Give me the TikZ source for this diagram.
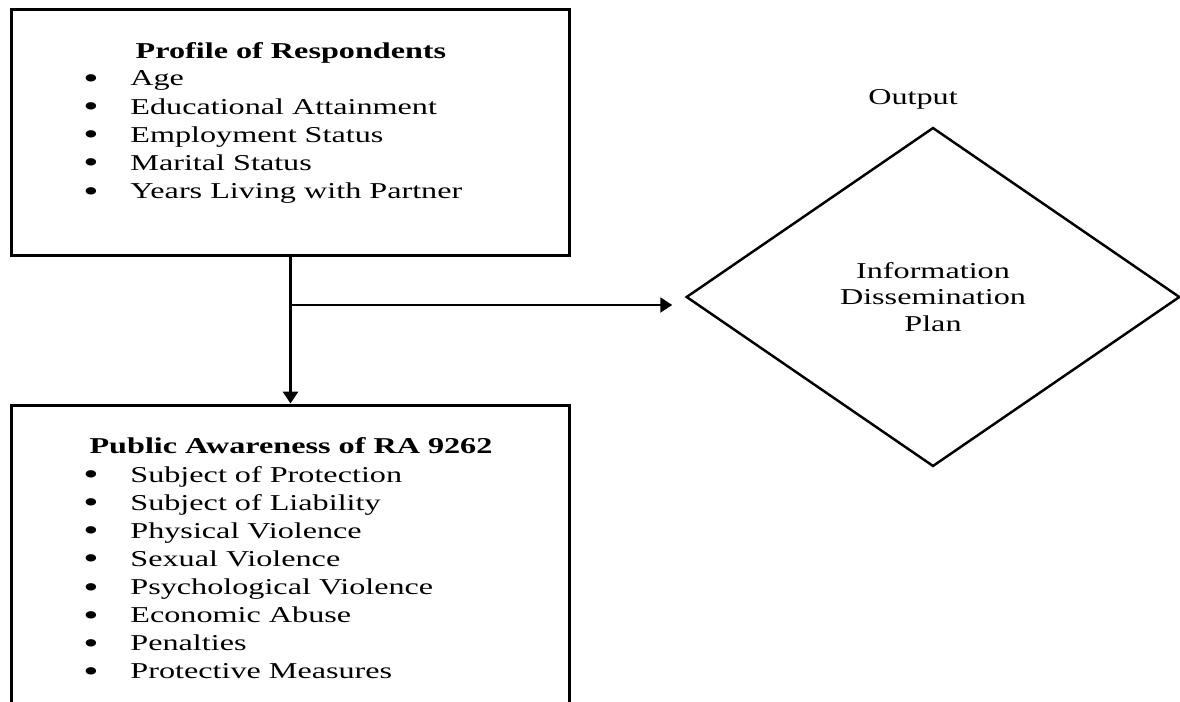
\documentclass[tikz,border=0pt]{standalone}
\usepackage{fontspec}
\setmainfont{Liberation Serif}
\usetikzlibrary{shapes.geometric, arrows.meta, positioning}

\newcommand{\bul}[1]{\makebox[18.8pt][l]{\raisebox{-1.5pt}{\fontsize{17.5}{16}\selectfont\textbullet}}#1}

\begin{document}
\begin{tikzpicture}[x=0.02cm, y=-0.02cm,
                box/.style={rectangle, draw, line width=1.7pt, minimum width=11.16cm},
                txt/.style={inner sep=0pt, xscale=1.42, font=\fontsize{12.9}{16}\selectfont},
                head/.style={txt, font=\fontsize{12.9}{16}\selectfont\bfseries},
                plan/.style={diamond, draw, line width=1.4pt, inner sep=0pt, xscale=1.42, minimum width=6.96cm, minimum height=6.78cm, align=center, font=\fontsize{12.9}{15}\selectfont},
                link/.style={-{Triangle[length=6.8pt, width=8.5pt]}, line width=1.6pt}
            ]
                \path[use as bounding box, clip] (0,0) rectangle (1180,702);

                % boxes
                \node[box, minimum height=4.94cm] (prof) at (290.5,132.5) {};
                \node[box, minimum height=6.3cm] (aware) at (290.5,562.5) {};
                \node[plan] (info) at (933,297) {Information\\Dissemination\\Plan};

                % box texts
                \node[head, anchor=base] (profhead) at (291,59) {Profile of Respondents};
                \node[txt, anchor=base west] (proflist) at (83,86) {\begin{tabular}[t]{@{}l@{}}
                    \bul{Age}\\
                    \bul{Educational Attainment}\\
                    \bul{Employment Status}\\
                    \bul{Marital Status}\\
                    \bul{Years Living with Partner}
                \end{tabular}};
                \node[head, anchor=base] (awarehead) at (291,454) {Public Awareness of RA 9262};
                \node[txt, anchor=base west] (awarelist) at (83,482) {\begin{tabular}[t]{@{}l@{}}
                    \bul{Subject of Protection}\\
                    \bul{Subject of Liability}\\
                    \bul{Physical Violence}\\
                    \bul{Sexual Violence}\\
                    \bul{Psychological Violence}\\
                    \bul{Economic Abuse}\\
                    \bul{Penalties}\\
                    \bul{Protective Measures}
                \end{tabular}};
                \node[txt, anchor=base] (outlbl) at (913,105) {Output};

                % connectors
                \coordinate (split) at (290.5,305);
                \draw[link] (prof.south) -- (aware.north);
                \draw[link, line width=1.3pt, shorten >=0.24cm] (split) -- (split -| info.west);
            \end{tikzpicture}
\end{document}
